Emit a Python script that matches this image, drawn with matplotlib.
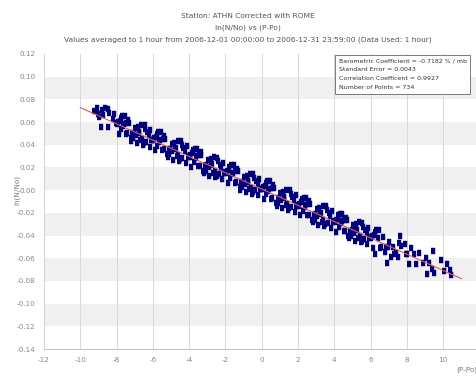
import matplotlib.pyplot as plt
import numpy as np

# pressure difference (P-Po) and ln(N/No)
x = [-9.25, -9.06, -9.00, -8.95,
     -8.49, -8.13, -8.88, -8.05, -8.41, -8.22, -8.82, -8.64, -8.75, -8.46,
     -7.97, -7.49, -7.78, -7.13, -7.60, -7.88, -7.32, -7.05, -7.69, -7.41,
     -7.93, -7.22, -7.55, -7.82, -7.09, -7.64, -7.37, -7.75, -7.18, -7.46,
     -6.97, -6.49, -6.78, -6.13, -6.60, -6.88, -6.32, -6.05, -6.69, -6.41,
     -6.93, -6.22, -6.55, -6.82, -6.09, -6.64, -6.37, -6.75, -6.18, -6.46,
     -5.97, -5.49, -5.78, -5.13, -5.60, -5.88, -5.32, -5.05, -5.69, -5.41,
     -5.93, -5.22, -5.55, -5.82, -5.09, -5.64, -5.37, -5.75, -5.18, -5.46,
     -4.97, -4.49, -4.78, -4.13, -4.60, -4.88, -4.32, -4.05, -4.69, -4.41,
     -4.93, -4.22, -4.55, -4.82, -4.09, -4.64, -4.37, -4.75, -4.18, -4.46,
     -3.97, -3.49, -3.78, -3.13, -3.60, -3.88, -3.32, -3.05, -3.69, -3.41,
     -3.93, -3.22, -3.55, -3.82, -3.09, -3.64, -3.37, -3.75, -3.18, -3.46,
     -2.97, -2.49, -2.78, -2.13, -2.60, -2.88, -2.32, -2.05, -2.69, -2.41,
     -2.93, -2.22, -2.55, -2.82, -2.09, -2.64, -2.37, -2.75, -2.18, -2.46,
     -1.97, -1.49, -1.78, -1.13, -1.60, -1.88, -1.32, -1.05, -1.69, -1.41,
     -1.93, -1.22, -1.55, -1.82, -1.09, -1.64, -1.37, -1.75, -1.18, -1.46,
     -0.97, -0.49, -0.78, -0.13, -0.60, -0.88, -0.32, -0.05, -0.69, -0.41,
     -0.93, -0.22, -0.55, -0.82, -0.09, -0.64, -0.37, -0.75, -0.18, -0.46,
     0.03, 0.51, 0.22, 0.87, 0.40, 0.12, 0.68, 0.95, 0.31, 0.59,
     0.07, 0.78, 0.45, 0.18, 0.91, 0.36, 0.63, 0.25, 0.82, 0.54,
     1.03, 1.51, 1.22, 1.87, 1.40, 1.12, 1.68, 1.95, 1.31, 1.59,
     1.07, 1.78, 1.45, 1.18, 1.91, 1.36, 1.63, 1.25, 1.82, 1.54,
     2.03, 2.51, 2.22, 2.87, 2.40, 2.12, 2.68, 2.95, 2.31, 2.59,
     2.07, 2.78, 2.45, 2.18, 2.91, 2.36, 2.63, 2.25, 2.82, 2.54,
     3.03, 3.51, 3.22, 3.87, 3.40, 3.12, 3.68, 3.95, 3.31, 3.59,
     3.07, 3.78, 3.45, 3.18, 3.91, 3.36, 3.63, 3.25, 3.82, 3.54,
     4.03, 4.51, 4.22, 4.87, 4.40, 4.12, 4.68, 4.95, 4.31, 4.59,
     4.07, 4.78, 4.45, 4.18, 4.91, 4.36, 4.63, 4.25, 4.82, 4.54,
     5.03, 5.51, 5.22, 5.87, 5.40, 5.12, 5.68, 5.95, 5.31, 5.59,
     5.07, 5.78, 5.45, 5.18, 5.91, 5.36, 5.63, 5.25, 5.82, 5.54,
     6.03, 6.51, 6.22, 6.87, 6.40, 6.12, 6.68, 6.95, 6.31, 6.59,
     6.07, 6.78, 6.45, 6.18, 6.24, 6.90,
     7.03, 7.51, 7.22, 7.87, 7.40, 7.12, 7.68, 7.95, 7.31, 7.59, 7.63,
     8.03, 8.51, 8.22, 8.87, 8.40, 8.12, 8.68,
     9.03, 9.51, 9.22, 9.87, 9.40, 9.12, 9.45,
     10.03, 10.22, 10.40, 10.45]

y = [0.0700, 0.0722, 0.0670, 0.0645,
     0.0559, 0.0674, 0.0557, 0.0588, 0.0684, 0.0630, 0.0703, 0.0720, 0.0658, 0.0717,
     0.0582, 0.0497, 0.0638, 0.0502, 0.0585, 0.0495, 0.0595, 0.0506, 0.0652, 0.0502,
     0.0599, 0.0458, 0.0652, 0.0611, 0.0459, 0.0568, 0.0619, 0.0536, 0.0435, 0.0595,
     0.0551, 0.0416, 0.0507, 0.0531, 0.0454, 0.0414, 0.0514, 0.0445, 0.0441, 0.0541,
     0.0488, 0.0487, 0.0401, 0.0560, 0.0438, 0.0577, 0.0428, 0.0515, 0.0384, 0.0574,
     0.0439, 0.0354, 0.0495, 0.0359, 0.0442, 0.0352, 0.0452, 0.0363, 0.0509, 0.0359,
     0.0456, 0.0315, 0.0509, 0.0468, 0.0316, 0.0425, 0.0476, 0.0393, 0.0292, 0.0452,
     0.0407, 0.0272, 0.0363, 0.0387, 0.0310, 0.0270, 0.0370, 0.0301, 0.0297, 0.0397,
     0.0344, 0.0343, 0.0257, 0.0416, 0.0294, 0.0433, 0.0284, 0.0371, 0.0240, 0.0430,
     0.0295, 0.0210, 0.0351, 0.0215, 0.0298, 0.0208, 0.0308, 0.0219, 0.0365, 0.0215,
     0.0312, 0.0171, 0.0365, 0.0324, 0.0172, 0.0281, 0.0332, 0.0249, 0.0148, 0.0308,
     0.0263, 0.0128, 0.0219, 0.0243, 0.0166, 0.0126, 0.0226, 0.0157, 0.0153, 0.0253,
     0.0200, 0.0199, 0.0113, 0.0272, 0.0150, 0.0289, 0.0140, 0.0227, 0.0096, 0.0286,
     0.0152, 0.0067, 0.0208, 0.0072, 0.0155, 0.0065, 0.0165, 0.0076, 0.0222, 0.0072,
     0.0169, 0.0028, 0.0222, 0.0181, 0.0029, 0.0138, 0.0189, 0.0106, 0.0005, 0.0165,
     0.0120, -0.0015, 0.0076, 0.0100, 0.0023, -0.0017, 0.0083, 0.0014, 0.0010, 0.0110,
     0.0057, 0.0056, -0.0030, 0.0129, 0.0007, 0.0146, -0.0003, 0.0084, -0.0047, 0.0143,
     0.0008, -0.0077, 0.0064, -0.0072, 0.0011, -0.0079, 0.0021, -0.0068, 0.0078, -0.0072,
     0.0025, -0.0116, 0.0078, 0.0037, -0.0115, -0.0006, 0.0045, -0.0038, -0.0139, 0.0021,
     -0.0024, -0.0159, -0.0068, -0.0044, -0.0121, -0.0161, -0.0061, -0.0130, -0.0134, -0.0034,
     -0.0087, -0.0088, -0.0174, -0.0015, -0.0137, 0.0002, -0.0147, -0.0060, -0.0191, -0.0001,
     -0.0136, -0.0221, -0.0080, -0.0216, -0.0133, -0.0223, -0.0123, -0.0212, -0.0066, -0.0216,
     -0.0119, -0.0260, -0.0066, -0.0107, -0.0259, -0.0150, -0.0099, -0.0182, -0.0283, -0.0123,
     -0.0167, -0.0302, -0.0211, -0.0187, -0.0264, -0.0304, -0.0204, -0.0273, -0.0277, -0.0177,
     -0.0230, -0.0231, -0.0317, -0.0158, -0.0280, -0.0141, -0.0290, -0.0203, -0.0334, -0.0144,
     -0.0279, -0.0364, -0.0223, -0.0359, -0.0276, -0.0366, -0.0266, -0.0355, -0.0209, -0.0359,
     -0.0262, -0.0403, -0.0209, -0.0250, -0.0402, -0.0293, -0.0242, -0.0325, -0.0426, -0.0266,
     -0.0311, -0.0446, -0.0355, -0.0331, -0.0408, -0.0448, -0.0348, -0.0417, -0.0421, -0.0321,
     -0.0374, -0.0375, -0.0461, -0.0302, -0.0424, -0.0285, -0.0434, -0.0347, -0.0478, -0.0288,
     -0.0423, -0.0508, -0.0367, -0.0503, -0.0420, -0.0510, -0.0410, -0.0499, -0.0353, -0.0503,
     -0.0406, -0.0547, -0.0353, -0.0394, -0.0567, -0.0640,
     -0.0455, -0.0590, -0.0499, -0.0475, -0.0552, -0.0592, -0.0492, -0.0561, -0.0565, -0.0465, -0.0408,
     -0.0566, -0.0651, -0.0510, -0.0646, -0.0563, -0.0653, -0.0553,
     -0.0598, -0.0733, -0.0642, -0.0618, -0.0695, -0.0735, -0.0539,
     -0.0710, -0.0654, -0.0707, -0.0745]

# regression shown on the chart
fit_slope = -0.007182
fit_intercept = 0.001
fit_x = [-10, 11]

title_lines = ["Station: ATHN Corrected with ROME",
               "ln(N/No) vs (P-Po)",
               "Values averaged to 1 hour from 2006-12-01 00:00:00 to 2006-12-31 23:59:00 (Data Used: 1 hour)"]
stats_text = ["Barometric Coefficient = -0.7182 % / mb",
              "Standard Error = 0.0043",
              "Correlation Coefficent = 0.9927",
              "Number of Points = 734"]

plt.rcParams['font.family'] = ['DejaVu Sans']
plt.rcParams['axes.unicode_minus'] = False

fig = plt.figure(figsize=(4.77, 3.76), dpi=100)
ax = fig.add_axes([0.0922, 0.0718, 0.913, 0.7846])

# alternating bands
for lo in np.arange(-0.12, 0.10, 0.04):
    ax.axhspan(lo, lo + 0.02, color='#f0f0f0', zorder=0, lw=0)
for xx in range(-10, 12, 2):
    ax.axvline(xx, color='#d8d8d8', lw=0.7, zorder=0.6)

bar = [(-0.55, -1), (0.55, -1), (0.55, 1), (-0.55, 1)]
ax.plot(x, y, linestyle='none', marker=bar, ms=4.2, color='#00007a', mec='#00007a', mew=0.3, zorder=2)
fx = np.array(fit_x)
ax.plot(fx, fit_slope * fx + fit_intercept, color='#e05a5a', lw=0.8, zorder=3)

ax.set_xlim(-12, 12)
ax.set_ylim(-0.14, 0.12)
ax.set_xticks(range(-12, 11, 2))
ax.set_yticks(np.round(np.arange(-0.14, 0.121, 0.02), 2))
ax.yaxis.set_major_formatter(plt.FormatStrFormatter('%.2f'))
ax.tick_params(labelsize=5.2, colors='#888888', length=0, pad=6)
for s in ['top', 'right']:
    ax.spines[s].set_visible(False)
ax.spines['left'].set_color('#d0d0d0')
ax.spines['bottom'].set_color('#c0c0c0')
ax.spines['left'].set_linewidth(0.7)
ax.spines['bottom'].set_linewidth(0.7)

fig.text(0.036, 0.495, "ln(N/No)", rotation=90, fontsize=5.2, color='#777777', ha='center', va='center')
fig.text(0.957, 0.016, "(P-Po)", fontsize=5.2, color='#777777', ha='left', va='center')

for i, t in enumerate(title_lines):
    fig.text(0.52, 1 - (15.5 + 12 * i) / 376, t, fontsize=5.4, color='#555555', ha='center', va='center')

ax.text(0.677, 0.985, "\n".join(stats_text), transform=ax.transAxes, fontsize=4.5, color='#333333',
        ha='left', va='top', linespacing=2.0, zorder=5,
        bbox=dict(boxstyle='square,pad=0.55', fc='white', ec='#666666', lw=0.6))

fig.savefig('out.png', dpi=100)
